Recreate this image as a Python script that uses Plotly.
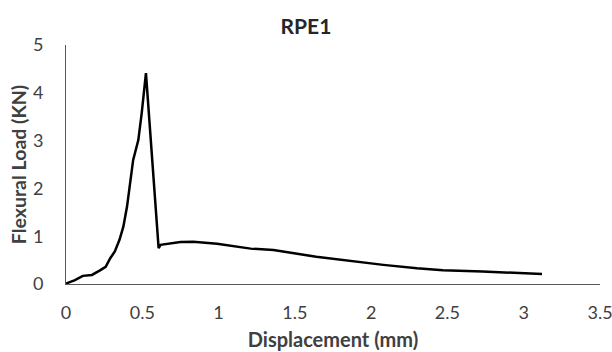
import plotly.graph_objects as go

displacement = [0.0, 0.059, 0.11, 0.17, 0.22, 0.26, 0.29, 0.32, 0.35, 0.376, 0.40, 0.42, 0.44, 0.474, 0.496, 0.524,
                0.607, 0.62, 0.75, 0.834, 0.99, 1.21, 1.36, 1.64, 1.86, 2.08, 2.30, 2.47, 2.73, 2.95, 3.12]
load = [0.01, 0.08, 0.17, 0.19, 0.28, 0.36, 0.54, 0.68, 0.92, 1.2, 1.62, 2.1, 2.59, 3.01, 3.57, 4.41,
        0.75, 0.82, 0.88, 0.885, 0.84, 0.74, 0.71, 0.57, 0.48, 0.40, 0.33, 0.29, 0.26, 0.23, 0.21]

x_ticks = [0, 0.5, 1, 1.5, 2, 2.5, 3, 3.5]
x_tick_labels = ["0", "0.5", "1", "1.5", "2", "2.5", "3", "3.5"]
y_ticks = [0, 1, 2, 3, 4, 5]

fig = go.Figure()
fig.add_trace(go.Scatter(x=displacement, y=load, mode="lines",
                         line=dict(color="#000000", width=2.5), showlegend=False, cliponaxis=False))

font = "Lato, 'Open Sans', sans-serif"
fig.update_layout(
    width=612, height=352,
    margin=dict(l=66, r=12, t=45, b=68, autoexpand=False),
    plot_bgcolor="white", paper_bgcolor="white",
    title=dict(text="<b>RPE1</b>", x=0.5, xanchor="center", y=1 - 27 / 352, yanchor="middle",
               font=dict(family=font, size=21, color="#262626")),
    font=dict(family=font, color="#595959"),
)
fig.update_xaxes(range=[0, 3.5], tickvals=x_ticks, ticktext=x_tick_labels, automargin=False,
                 showgrid=False, zeroline=False, showline=True, linecolor="#595959", linewidth=1,
                 ticks="", ticklabelstandoff=12, ticklabeloverflow="allow",
                 tickfont=dict(size=18, color="#404040"),
                 title=dict(text="<b>Displacement (mm)</b>", font=dict(size=20, color="#404040"), standoff=11))
fig.update_yaxes(range=[0, 5], tickvals=y_ticks, automargin=False,
                 showgrid=False, zeroline=False, showline=True, linecolor="#595959", linewidth=1,
                 ticks="", ticklabelstandoff=18, ticklabeloverflow="allow",
                 tickfont=dict(size=18, color="#404040"),
                 title=dict(text="<b>Flexural Load (KN)</b>", font=dict(size=19.5, color="#404040"), standoff=1))

fig.write_html("out.html", config={"displayModeBar": False},
               post_script="document.body.style.margin='0';document.body.style.overflow='hidden';")
